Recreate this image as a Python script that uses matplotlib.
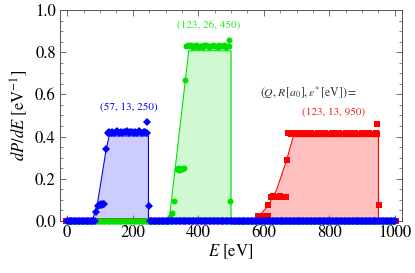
import numpy as np
import matplotlib
matplotlib.use("Agg")
import matplotlib.pyplot as plt
from matplotlib.ticker import MultipleLocator

plt.rcParams['font.family'] = 'STIXGeneral'
plt.rcParams['mathtext.fontset'] = 'stix'

# blue series (57, 13, 250): measured points and theory curve
blue_E = [88, 94, 97, 100, 103, 106, 109, 112, 119, 123, 128, 133, 138, 143, 148,
          153, 158, 163, 168, 173, 178, 183, 188, 193, 198, 203, 208, 213, 218, 223,
          228, 233, 238, 242, 245, 249]
blue_P = [0.041, 0.072, 0.078, 0.075, 0.080, 0.077, 0.082, 0.079, 0.34, 0.415, 0.42,
          0.418, 0.422, 0.415, 0.42, 0.425, 0.418, 0.42, 0.415, 0.422, 0.42, 0.425,
          0.418, 0.42, 0.422, 0.415, 0.42, 0.418, 0.425, 0.42, 0.415, 0.42, 0.422,
          0.418, 0.47, 0.073]
blue_zero = [(0, 85), (252, 1000)]
blue_curve_E = [76, 92, 118, 128, 248, 248]
blue_curve_P = [0.0, 0.08, 0.33, 0.403, 0.403, 0.0]

# green series (123, 26, 450)
green_E = [314, 319, 325, 334, 338, 342, 346, 350, 355, 359, 364, 369, 374, 379, 384,
           389, 394, 399, 404, 409, 414, 419, 424, 429, 434, 439, 444, 449, 454, 459,
           464, 469, 474, 479, 484, 489, 494, 495, 498]
green_P = [0.017, 0.036, 0.096, 0.245, 0.25, 0.243, 0.248, 0.246, 0.25, 0.67, 0.83,
           0.835, 0.828, 0.832, 0.826, 0.83, 0.833, 0.825, 0.828, 0.83, 0.824, 0.832,
           0.836, 0.83, 0.826, 0.829, 0.833, 0.827, 0.83, 0.825, 0.832, 0.828, 0.83,
           0.835, 0.826, 0.83, 0.828, 0.86, 0.096]
green_zero = [(0, 310), (502, 1000)]
green_curve_E = [311, 371, 500, 500]
green_curve_P = [0.0, 0.807, 0.807, 0.0]

# red series (123, 13, 950)
red_E = [582, 588, 594, 600, 606, 612, 614, 621, 627, 633, 639, 645, 651, 657, 663,
         667, 670, 675, 682, 689, 696, 703, 710, 717, 724, 731, 738, 745, 752, 759,
         766, 773, 780, 787, 794, 801, 808, 815, 822, 829, 836, 843, 850, 857, 864,
         871, 878, 885, 892, 899, 906, 913, 920, 927, 934, 941, 945, 946, 951]
red_P = [0.024, 0.022, 0.026, 0.024, 0.023, 0.025, 0.074, 0.115, 0.118, 0.112, 0.116,
         0.114, 0.118, 0.113, 0.116, 0.115, 0.29, 0.415, 0.412, 0.418, 0.41, 0.416,
         0.413, 0.418, 0.41, 0.415, 0.412, 0.418, 0.414, 0.41, 0.417, 0.412, 0.415,
         0.418, 0.411, 0.414, 0.416, 0.41, 0.415, 0.418, 0.412, 0.414, 0.417, 0.41,
         0.415, 0.413, 0.418, 0.411, 0.414, 0.416, 0.412, 0.415, 0.418, 0.41, 0.414,
         0.416, 0.413, 0.46, 0.076]
red_zero = [(-4, 578), (952, 1004)]
red_curve_E = [573, 614, 639, 670, 690, 950, 950]
red_curve_P = [0.0, 0.074, 0.147, 0.29, 0.40, 0.40, 0.0]

labels = ['(57, 13, 250)', '(123, 26, 450)', '(123, 13, 950)']

fig = plt.figure(figsize=(4.15, 2.73), dpi=100)
ax = fig.add_axes([0.1446, 0.1905, 0.968 - 0.1446, 0.9634 - 0.1905])

series = [
    (red_E, red_P, red_zero, red_curve_E, red_curve_P, '#ff0000', 's', 4.0, 0.25),
    (green_E, green_P, green_zero, green_curve_E, green_curve_P, '#00e000', 'o', 4.3, 0.18),
    (blue_E, blue_P, blue_zero, blue_curve_E, blue_curve_P, '#0000ff', 'D', 3.6, 0.2),
]
for E, P, zero, cE, cP, col, mk, ms, alpha in series:
    ax.fill_between(cE, cP, 0, color=col, alpha=alpha, lw=0, zorder=1)
    ax.plot(cE, cP, color=col, lw=0.8, zorder=2)
    zE = np.concatenate([np.arange(a, b + 1, 4) for a, b in zero])
    ax.plot(zE, np.zeros_like(zE), mk, color=col, ms=ms, mew=0, clip_on=False, zorder=3)
    ax.plot(E, P, mk, color=col, ms=ms, mew=0, clip_on=False, zorder=3)

ax.text(187, 0.54, labels[0], color='#0000ff', fontsize=8, ha='center', va='center')
ax.text(433, 0.93, labels[1], color='#22ee22', fontsize=8, ha='center', va='center')
ax.text(737, 0.613, r'$(Q, R\,[a_0], \varepsilon^{*}\,[\mathrm{eV}]) =$', color='#333333',
        fontsize=8.5, ha='center', va='center')
ax.text(814, 0.513, labels[2], color='#ee2222', fontsize=8, ha='center', va='center')

ax.set_xlim(-22, 1021)
ax.set_ylim(0, 1)
ax.xaxis.set_major_locator(MultipleLocator(200))
ax.xaxis.set_minor_locator(MultipleLocator(50))
ax.yaxis.set_major_locator(MultipleLocator(0.2))
ax.yaxis.set_minor_locator(MultipleLocator(0.05))
ax.yaxis.set_major_formatter(plt.FuncFormatter(lambda v, p: '%.1f' % v))
ax.tick_params(which='both', direction='in', top=True, right=True, labelsize=12,
               color='#555555', pad=3)
ax.tick_params(which='major', length=4, width=0.6)
ax.tick_params(which='minor', length=2.2, width=0.5)
for s in ax.spines.values():
    s.set_color('#555555')
    s.set_linewidth(0.7)

ax.set_xlabel(r'$E$ [eV]', fontsize=12, labelpad=1)
ax.set_ylabel(r'$dP/dE$ [eV$^{-1}$]', fontsize=12, labelpad=4)

fig.savefig('out.png', dpi=100)
